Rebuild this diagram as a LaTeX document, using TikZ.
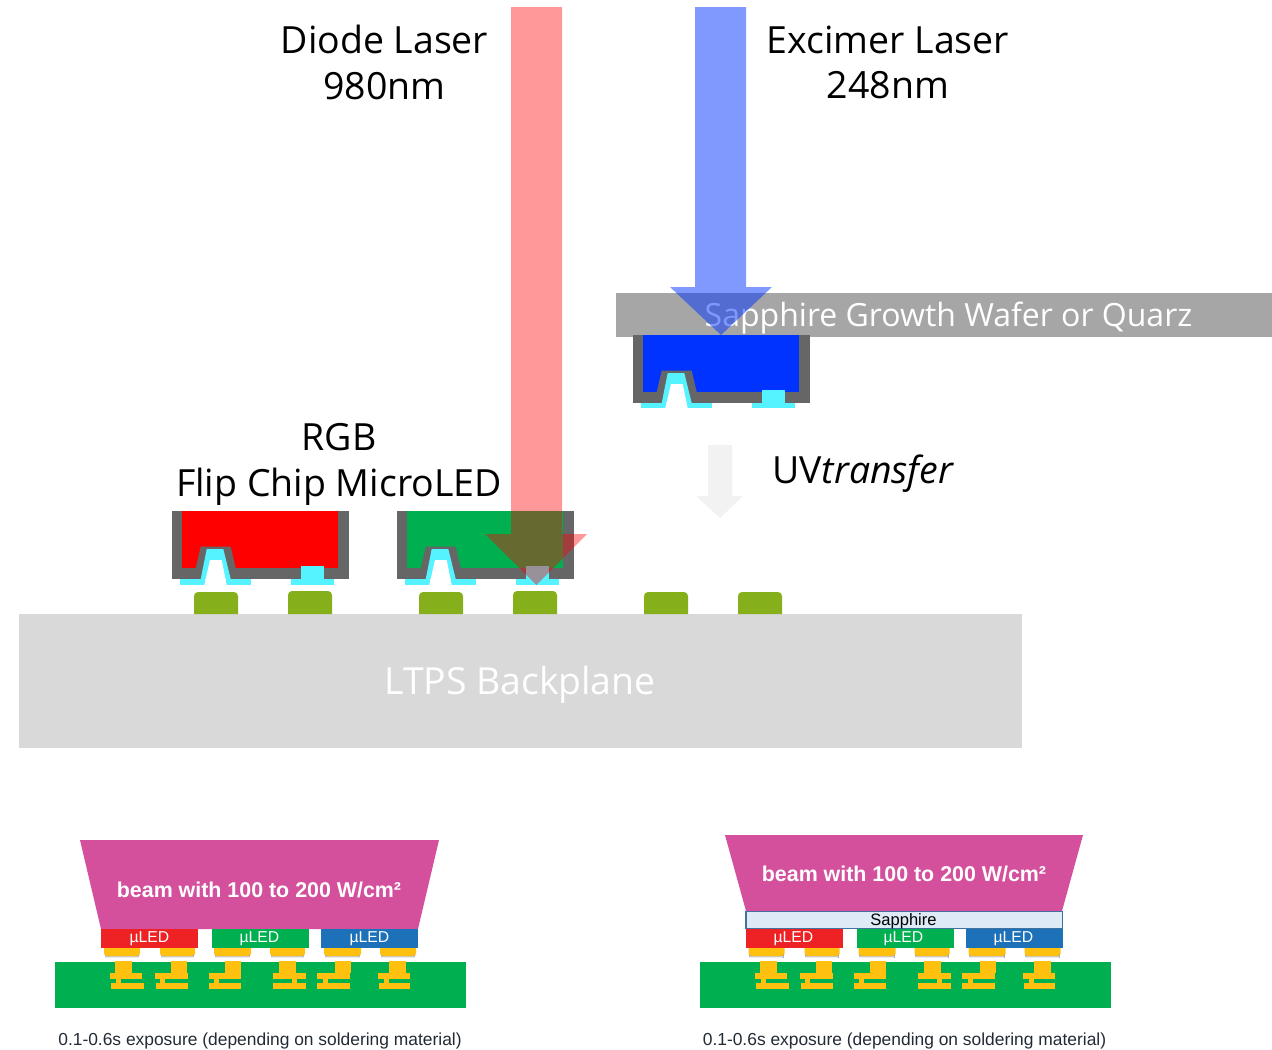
\documentclass[tikz,border=0pt]{standalone}
\usepackage{fontspec}
\setmainfont{Open Sans}
\newfontfamily\capfont{Liberation Sans}
\definecolor{chipgray}{HTML}{666666}
\definecolor{cyanpad}{HTML}{55F3FF}
\definecolor{ledgreen}{HTML}{00B050}
\definecolor{ledblue}{HTML}{0033FF}
\definecolor{padgreen}{HTML}{85B01C}
\definecolor{wafer}{HTML}{A6A6A6}
\definecolor{plane}{HTML}{D9D9D9}
\definecolor{beam}{HTML}{D5509C}
\definecolor{solder}{HTML}{FFC00F}
\definecolor{ured}{HTML}{EE2224}
\definecolor{ublue}{HTML}{1C71B8}
\definecolor{sapfill}{HTML}{DEEBF7}
\definecolor{sapline}{HTML}{41719C}
\definecolor{shade}{HTML}{8C8C8C}
\definecolor{captxt}{HTML}{222A35}
\tikzset{
  x=0.75pt,y=-0.75pt,
  bigtext/.style={font=\fontsize{28.1}{34}\selectfont,align=center,inner sep=0pt,text=black},
  ledlabel/.style={font=\capfont\fontsize{11.8}{14}\selectfont,text=white,inner sep=0pt},
  captext/.style={font=\capfont\fontsize{13.05}{15}\selectfont,text=captxt,inner sep=0pt},
  beamtext/.style={font=\capfont\bfseries\fontsize{16.05}{18}\selectfont,text=white,inner sep=0pt},
}
\newcommand{\ledchip}[4]{%
  \begin{scope}[shift={(#1,#2)}]
    \fill[chipgray] (0,0) rectangle (177,68);
    \fill[#3] (10,0) rectangle (166,57);
    \fill[chipgray] (28.7,35.7) -- (58.7,35.7) -- (63.7,57) -- (23.7,57) -- cycle;
    \fill[cyanpad] (8,68) rectangle (33,#4);
    \fill[cyanpad] (54,68) rectangle (79,#4);
    \fill[cyanpad] (34.7,38) -- (51.3,38) -- (58.7,68) -- (28.7,68) -- cycle;
    \fill[white] (38,49) -- (49.7,49) -- (54.7,#4) -- (32.3,#4) -- cycle;
    \fill[cyanpad] (119,68) rectangle (162,#4);
    \fill[cyanpad] (129,55) rectangle (152,68);
  \end{scope}}
\newcommand{\goldpad}[2]{%
  \fill (#1,614) [rounded corners=3] -- (#1,#2) -- ++(44,0) [sharp corners] -- (#1+44,614) -- cycle;}
\newcommand{\solderbump}[2]{%
  \fill[shade] (#1+1,954) rectangle (#2-1,957.5);
  \fill[solder] (#1,948) -- (#2,948) -- (#2,954) -- (#2-3,956) -- (#1+3,956) -- (#1,954) -- cycle;}
% post l, post r, bar l, bar r, stem l, stem r, bottom l, bottom r
\newcommand{\tft}[8]{%
  \fill[solder] (#1,961) rectangle (#2,973);
  \fill[solder] (#3,973) rectangle (#4,978.5);
  \fill[solder] (#5,978) rectangle (#6,983);
  \fill[solder] (#7,982.8) rectangle (#8,989);}
\newcommand{\ledstack}{%
  \fill[ledgreen] (55,962) rectangle (466,1008);
  \fill[ured] (101,929) rectangle (198,948);
  \fill[ledgreen] (212,929) rectangle (309,948);
  \fill[ublue] (321,929) rectangle (418,948);
  \solderbump{104}{140}\solderbump{160}{195}\solderbump{214}{251}
  \solderbump{270}{305}\solderbump{324}{361}\solderbump{380}{416}
  \tft{115}{132}{110}{142}{116}{121}{111}{144}
  \tft{171}{187}{155}{188}{160}{165}{156}{188}
  \tft{225}{241}{209}{241}{214}{219}{209}{241}
  \tft{279}{296}{273}{306}{292}{297}{273}{306}
  \tft{335}{351}{317}{350}{323}{328}{317}{350}
  \tft{389}{406}{378}{410}{384}{389}{379}{410}
  }
\begin{document}
\begin{tikzpicture}
\useasboundingbox (0,0) rectangle (1272,1050);
% backplane and pads
\fill[plane] (19,614) rectangle (1022,748);
\node[font=\fontsize{28}{34}\selectfont,text=white,inner sep=0pt] (ltps) at (520,685) {LTPS Backplane};
\begin{scope}[padgreen]
  \goldpad{194}{592}\goldpad{288}{591}\goldpad{419}{592}\goldpad{513}{591}\goldpad{644}{592}\goldpad{738}{592}
\end{scope}
% wafer
\fill[wafer] (616,293) rectangle (1272,337);
\node[font=\fontsize{24}{30}\selectfont,text=white,inner sep=0pt] (wafertext) at (948.5,318.5) {Sapphire Growth Wafer or Quarz};
% chips
\ledchip{172}{511}{red}{74}
\ledchip{397}{511}{ledgreen}{74}
% laser arrows
\fill[red,fill opacity=0.4] (511,7) -- (562,7) -- (562,534) -- (587,534) -- (536.5,585) -- (485,534) -- (511,534) -- cycle;
\fill[ledblue,fill opacity=0.5] (695,7) -- (746,7) -- (746,287) -- (772,287) -- (721,335) -- (670,287) -- (695,287) -- cycle;
\ledchip{633}{335}{ledblue}{73}
% UV arrow
\fill[black!5] (708,445) -- (732,445) -- (732,496) -- (743,496) -- (720,518) -- (696,496) -- (708,496) -- cycle;
% labels
\node[bigtext] (diode) at (384.5,62.5) {Diode Laser\\980nm};
\node[bigtext] (excimer) at (888,62.5) {Excimer Laser\\248nm};
\node[bigtext] (rgb) at (339,464.5) {RGB\\Flip Chip MicroLED};
\node[bigtext,anchor=west] (uv) at (772,474) {UV\textit{transfer}};
% bottom left
\fill[beam] (80,840) -- (439,840) -- (418,929) -- (101,929) -- cycle;
\node[beamtext] (beamA) at (259,889.5) {beam with 100 to 200 W/cm²};
\ledstack
\node[ledlabel] (a1) at (149.5,938.5) {µLED};
\node[ledlabel] (a2) at (259.5,938.5) {µLED};
\node[ledlabel] (a3) at (369.5,938.5) {µLED};
\node[captext] (capA) at (260,1041) {0.1-0.6s exposure (depending on soldering material)};
% bottom right
\begin{scope}[shift={(644.5,0)}]
  \ledstack
  \node[ledlabel] (b1) at (149,938.5) {µLED};
  \node[ledlabel] (b2) at (259,938.5) {µLED};
  \node[ledlabel] (b3) at (369,938.5) {µLED};
  \node[captext] (capB) at (260,1041) {0.1-0.6s exposure (depending on soldering material)};
\end{scope}
\fill[beam] (725,835) -- (1083,835) -- (1062,911) -- (746,911) -- cycle;
\node[beamtext] (beamB) at (904,873.5) {beam with 100 to 200 W/cm²};
\draw[sapline,fill=sapfill,line width=0.9pt] (746,911.5) rectangle (1062.5,928.5);
\node[font=\capfont\fontsize{12.4}{14}\selectfont,text=black,inner sep=0pt] (sap) at (903.5,921.5) {Sapphire};
\end{tikzpicture}
\end{document}
